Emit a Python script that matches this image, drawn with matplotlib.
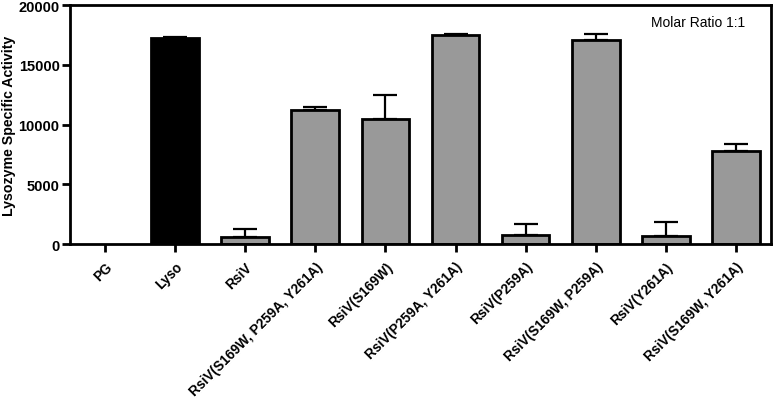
import matplotlib.pyplot as plt

plt.rcParams['font.family'] = ['Liberation Sans', 'DejaVu Sans']

# data
labels = ['PG', 'Lyso', 'RsiV', 'RsiV(S169W, P259A, Y261A)', 'RsiV(S169W)',
          'RsiV(P259A, Y261A)', 'RsiV(P259A)', 'RsiV(S169W, P259A)',
          'RsiV(Y261A)', 'RsiV(S169W, Y261A)']
activity = [0, 17200, 610, 11190, 10490, 17460, 750, 17070, 670, 7780]
err_up = [0, 150, 650, 300, 1980, 80, 900, 500, 1150, 590]
colors = ['#999999', 'black'] + ['#999999'] * 8

fig = plt.figure(figsize=(7.75, 4.02), dpi=100)
ax = fig.add_axes([0.0903, 0.3905, 0.9045, 0.5945])

x = range(len(labels))
edges = [0 if v == 0 else 2 for v in activity]
ax.bar(x, activity, width=0.68, color=colors, edgecolor='black', linewidth=edges, zorder=2)
ax.errorbar(x[1:], activity[1:], yerr=[[0] * 9, err_up[1:]], fmt='none',
            ecolor='black', elinewidth=1.6, capsize=8.6, capthick=1.6, zorder=1)

ax.set_xlim(-0.5, 9.5)
ax.set_ylim(0, 20000)
ax.set_yticks([0, 5000, 10000, 15000, 20000])
ax.set_xticks(list(x))
ax.set_xticklabels(labels, rotation=45, ha='right', rotation_mode='anchor',
                   fontweight='bold', fontsize=9.8)
for t in ax.get_yticklabels():
    t.set_fontweight('bold')
    t.set_fontsize(10.5)
ax.tick_params(axis='both', direction='out', length=6, width=2)
ax.tick_params(axis='x', pad=5)
ax.tick_params(axis='y', pad=1.5)
for s in ax.spines.values():
    s.set_linewidth(2)

ax.set_ylabel('Lysozyme Specific Activity', fontweight='bold', fontsize=10.2)
ax.yaxis.set_label_coords(-0.077, 0.5)
ax.text(0.963, 0.93, 'Molar Ratio 1:1', transform=ax.transAxes, ha='right',
        va='center', fontsize=10)

fig.savefig('out.png', dpi=100)
